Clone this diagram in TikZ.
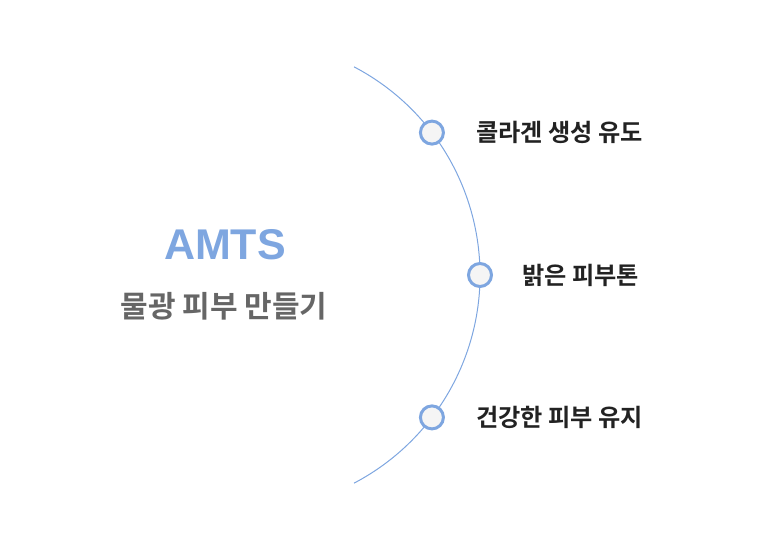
\documentclass[tikz,border=0pt]{standalone}
\usepackage{fontspec}
\setmainfont{Liberation Sans}
\newfontfamily\krfont{Noto Sans CJK KR}[BoldFont={* Bold}]
\usetikzlibrary{calc}
\definecolor{arcblue}{HTML}{7EA6E0}
\definecolor{dotfill}{HTML}{F5F5F5}
\definecolor{txtdark}{HTML}{222222}
\definecolor{txtgray}{HTML}{666666}
\tikzset{
  arcline/.style={draw=arcblue, line width=1pt},
  dotnode/.style={circle, draw=arcblue, fill=dotfill, line width=3pt, minimum size=23pt, inner sep=0pt},
  itemtext/.style={anchor=west, inner sep=0pt, text=txtdark, font=\krfont\bfseries\fontsize{24.2pt}{28pt}\selectfont},
  titletext/.style={inner sep=0pt, text=arcblue, font=\bfseries\fontsize{43pt}{47pt}\selectfont},
  subtext/.style={inner sep=0pt, text=txtgray, font=\krfont\bfseries\fontsize{30pt}{34pt}\selectfont}
}
\begin{document}
\begin{tikzpicture}
\useasboundingbox (0,0) rectangle (758pt,-551pt);
\coordinate (c) at (245pt,-275pt);
\draw[arcline] ($(c)+(62.35:235pt)$) arc[start angle=62.35, end angle=-62.35, radius=235pt];
\node[dotnode] (d1) at ($(c)+(37.3:235pt)$) {};
\node[dotnode] (d2) at ($(c)+(0:235pt)$) {};
\node[dotnode] (d3) at ($(c)+(-37.3:235pt)$) {};
\node[itemtext] (t1) at (476pt,-132pt) {콜라겐 생성 유도};
\node[itemtext] (t2) at (522pt,-275pt) {밝은 피부톤};
\node[itemtext] (t3) at (476pt,-417pt) {건강한 피부 유지};
\node[titletext] (title) at (225pt,-245pt) {AMTS};
\node[subtext] (sub) at (224pt,-306pt) {물광 피부 만들기};
\end{tikzpicture}
\end{document}
